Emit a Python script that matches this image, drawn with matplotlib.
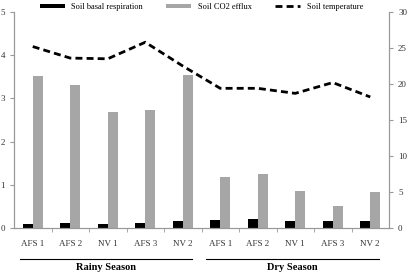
import matplotlib
matplotlib.use("Agg")
import matplotlib.pyplot as plt
import numpy as np

plt.rcParams["font.family"] = ["Liberation Serif", "DejaVu Serif"]

sites = ["AFS 1", "AFS 2", "NV 1", "AFS 3", "NV 2",
         "AFS 1", "AFS 2", "NV 1", "AFS 3", "NV 2"]
basal_resp = [0.09, 0.12, 0.10, 0.12, 0.16, 0.19, 0.20, 0.16, 0.17, 0.16]
co2_efflux = [3.51, 3.31, 2.68, 2.74, 3.54, 1.17, 1.25, 0.86, 0.50, 0.84]
soil_temp = [25.2, 23.6, 23.5, 25.8, 22.5, 19.4, 19.4, 18.7, 20.2, 18.2]
seasons = ["Rainy Season", "Dry Season"]

x = np.arange(len(sites))
w = 0.27

fig = plt.figure(figsize=(4.09, 2.72), dpi=100)
ax = fig.add_axes([14/409, 44/272, 375/409, 216/272])
ax2 = ax.twinx()

b1 = ax.bar(x - w/2, basal_resp, w, color="black", label="Soil basal respiration")
b2 = ax.bar(x + w/2, co2_efflux, w, color="#a6a6a6", label="Soil CO2 efflux")
l1, = ax2.plot(x, soil_temp, color="black", lw=2, ls=(0, (2.5, 1.5)), label="Soil temperature")

ax.set_xlim(-0.5, 9.5)
ax.set_ylim(0, 5)
ax2.set_ylim(0, 30)
ax.set_yticks(range(0, 6))
ax2.set_yticks(range(0, 31, 5))

ax.set_xticks(x)
ax.set_xticklabels(sites, fontsize=6.5, color="#333333")
ax.set_xticks(np.arange(0.5, 9.5, 1), minor=True)
ax.tick_params(axis="x", which="major", length=0, pad=9)
ax.tick_params(axis="x", which="minor", length=3, color="#999999", direction="out")
ax.tick_params(axis="y", labelsize=6.5, length=3, color="#999999", labelcolor="#333333")
ax2.tick_params(axis="y", labelsize=6.5, length=3, color="#999999", labelcolor="#333333")

for a in (ax, ax2):
    a.spines["top"].set_visible(False)
    for s in ("left", "right", "bottom"):
        a.spines[s].set_color("#999999")
        a.spines[s].set_linewidth(0.8)

# season brackets below the axis
trans = ax.get_xaxis_transform()
for (x0, x1), name in zip([(-0.34, 4.25), (4.62, 9.23)], seasons):
    ax.plot([x0, x1], [-0.1435, -0.1435], color="black", lw=0.8,
            transform=trans, clip_on=False)
    ax.text((x0 + x1) / 2, -0.16, name, transform=trans, ha="center", va="top",
            fontsize=7.5, fontweight="bold")

leg = ax.legend([b1, b2, l1], ["Soil basal respiration", "Soil CO2 efflux", "Soil temperature"],
                ncol=3, loc="center", bbox_to_anchor=(0.5, 1.023),
                frameon=False, fontsize=6, handlelength=3, handleheight=0.5,
                columnspacing=2.8, borderaxespad=0)

fig.savefig("out.png", dpi=100)
